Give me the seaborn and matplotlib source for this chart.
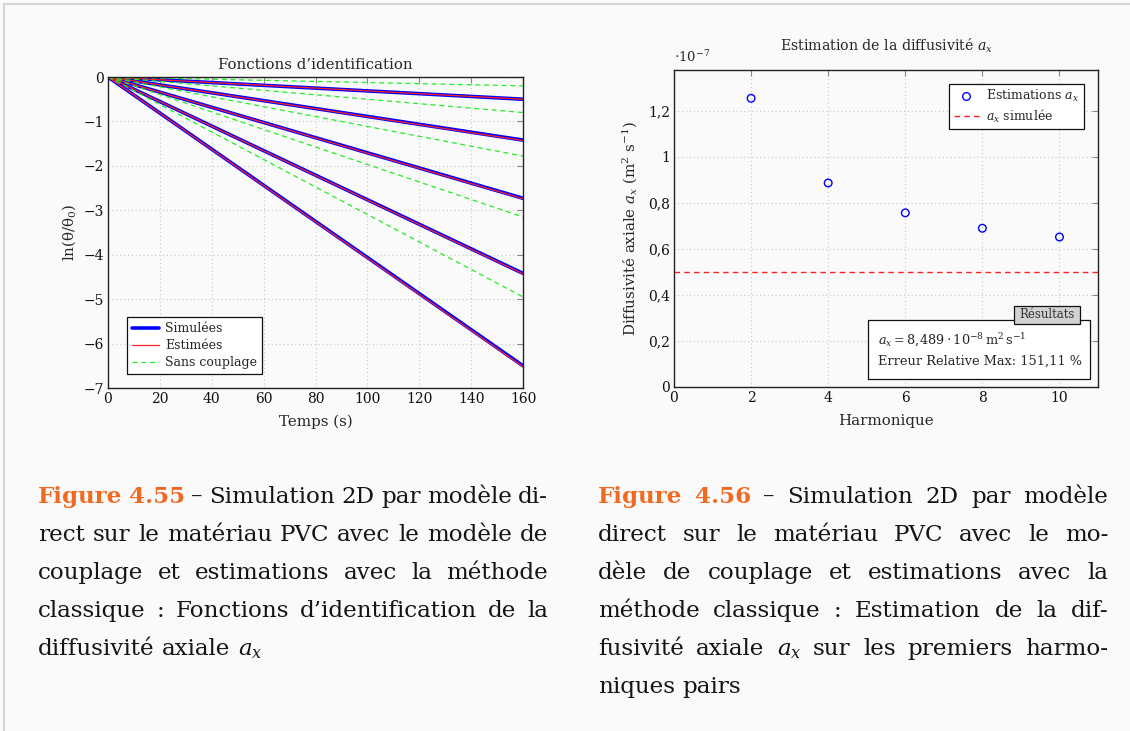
import matplotlib
matplotlib.use("Agg")
import matplotlib.pyplot as plt
import seaborn as sns
from matplotlib.lines import Line2D
from matplotlib.patches import Rectangle

# ---------------- data ----------------
temps = [0, 160]
simulees = [[0, -0.50], [0, -1.42], [0, -2.73], [0, -4.42], [0, -6.50]]
estimees = [[0, -0.50], [0, -1.43], [0, -2.74], [0, -4.43], [0, -6.52]]
sans_couplage = [[0, -0.20], [0, -0.80], [0, -1.78], [0, -3.15], [0, -4.95]]

harmoniques = [2, 4, 6, 8, 10]
estimations = [1.255, 0.887, 0.757, 0.690, 0.652]   # x 1e-7
a_simulee = 0.5                                      # x 1e-7

left_ticks_x = [0, 20, 40, 60, 80, 100, 120, 140, 160]
left_ticks_y = [0, -1, -2, -3, -4, -5, -6, -7]
right_ticks_x = [0, 2, 4, 6, 8, 10]
right_ticks_y = [0, 0.2, 0.4, 0.6, 0.8, 1.0, 1.2]
right_tick_labels_y = ["0", "0,2", "0,4", "0,6", "0,8", "1", "1,2"]

caption_left = [
    "Figure 4.55 – Simulation 2D par modèle di-",
    "rect sur le matériau PVC avec le modèle de",
    "couplage et estimations avec la méthode",
    "classique : Fonctions d’identification de la",
    "diffusivité axiale $a_x$",
]
caption_right = [
    "Figure 4.56 – Simulation 2D par modèle",
    "direct sur le matériau PVC avec le mo-",
    "dèle de couplage et estimations avec la",
    "méthode classique : Estimation de la dif-",
    "fusivité axiale $a_x$ sur les premiers harmo-",
    "niques pairs",
]

# ---------------- style ----------------
sns.set_theme(style="white")
plt.rcParams["font.family"] = ["DejaVu Serif"]
plt.rcParams["mathtext.fontset"] = "dejavuserif"
plt.rcParams["axes.unicode_minus"] = True

W, H = 1130, 731
fig = plt.figure(figsize=(W / 100, H / 100), dpi=100, facecolor="#fafafa")

# page frame (screenshot border)
fig.add_artist(Line2D([4 / W, 4 / W], [0, 1 - 4 / H], transform=fig.transFigure, color="#d4d4d4", lw=1.5))
fig.add_artist(Line2D([4 / W, 1], [1 - 4 / H, 1 - 4 / H], transform=fig.transFigure, color="#d4d4d4", lw=1.5))

TICK_FS = 10
LAB_FS = 10.8


def style_axes(ax):
    ax.set_facecolor("none")
    for s in ax.spines.values():
        s.set_color("#222222")
        s.set_linewidth(1.0)
    ax.tick_params(direction="in", top=True, right=True, length=4, width=0.8,
                   color="#888888", labelsize=TICK_FS, labelcolor="#111111", pad=3)
    ax.grid(True, linestyle=(0, (1, 2.5)), color="#c8c8c8", lw=0.8)


# ---------------- left plot ----------------
ax1 = fig.add_axes([108 / W, 1 - 388 / H, 415 / W, 311 / H])
for k, ys in enumerate(simulees):
    sns.lineplot(x=temps, y=ys, ax=ax1, color="#0000ff", lw=2.6,
                 label="Simulées" if k == 0 else None, legend=False)
for k, ys in enumerate(estimees):
    sns.lineplot(x=temps, y=ys, ax=ax1, color="#ff2020", lw=0.9,
                 label="Estimées" if k == 0 else None, legend=False)
for k, ys in enumerate(sans_couplage):
    sns.lineplot(x=temps, y=ys, ax=ax1, color="#22ee22", lw=0.9, linestyle=(0, (4, 3)),
                 label="Sans couplage" if k == 0 else None, legend=False)
ax1.set_xlim(0, 160)
ax1.set_ylim(-7, 0)
ax1.set_xticks(left_ticks_x)
ax1.set_yticks(left_ticks_y)
style_axes(ax1)
ax1.set_title("Fonctions d’identification", fontsize=LAB_FS, pad=6)
ax1.set_xlabel("Temps (s)", fontsize=LAB_FS, labelpad=6)
ax1.set_ylabel("ln(θ/θ$_0$)", fontsize=LAB_FS, labelpad=4)
h1 = [Line2D([], [], color="#0000ff", lw=2.6),
      Line2D([], [], color="#ff2020", lw=0.9),
      Line2D([], [], color="#22ee22", lw=0.9, linestyle=(0, (4, 3)))]
leg1 = ax1.legend(h1, ["Simulées", "Estimées", "Sans couplage"], loc="lower left",
                  bbox_to_anchor=(0.03, 0.025), fontsize=9, frameon=True, fancybox=False,
                  edgecolor="#111111", facecolor="white", framealpha=1,
                  handlelength=2.2, handletextpad=0.5, borderpad=0.4, labelspacing=0.3)
leg1.get_frame().set_linewidth(0.9)

# ---------------- right plot ----------------
ax2 = fig.add_axes([674 / W, 1 - 387 / H, 424 / W, 317 / H])
sns.scatterplot(x=harmoniques, y=estimations, ax=ax2, marker="o", s=30, legend=False)
coll = ax2.collections[-1]
coll.set_facecolor("none")
coll.set_edgecolor("#0000ff")
coll.set_linewidth(1.0)
ax2.axhline(a_simulee, color="#ff2020", lw=1.0, linestyle=(0, (4, 3)))
ax2.set_xlim(0, 11)
ax2.set_ylim(0, 1.378)
ax2.set_xticks(right_ticks_x)
ax2.set_yticks(right_ticks_y)
ax2.set_yticklabels(right_tick_labels_y)
style_axes(ax2)
ax2.set_title("Estimation de la diffusivité $a_x$", fontsize=LAB_FS - 0.6, pad=14)
ax2.set_xlabel("Harmonique", fontsize=LAB_FS, labelpad=6)
ax2.set_ylabel("Diffusivité axiale $a_x$ (m$^2$ s$^{-1}$)", fontsize=LAB_FS, labelpad=6)
ax2.text(0.0, 1.015, r"$\cdot 10^{-7}$", transform=ax2.transAxes, fontsize=9.5, ha="left", va="bottom")
h2 = [Line2D([], [], color="#0000ff", marker="o", markerfacecolor="none", linestyle="none", markersize=5.5),
      Line2D([], [], color="#ff2020", lw=1.0, linestyle=(0, (4, 3)))]
leg2 = ax2.legend(h2, ["Estimations $a_x$", "$a_x$ simulée"], loc="upper right",
                  bbox_to_anchor=(0.981, 0.976), fontsize=9, frameon=True, fancybox=False,
                  edgecolor="#111111", facecolor="white", framealpha=1,
                  handlelength=2.0, handletextpad=0.6, borderpad=0.35, labelspacing=0.25)
leg2.get_frame().set_linewidth(0.9)

# results box
ax2.add_patch(Rectangle((0.4575, 0.025), 0.5235, 0.186, transform=ax2.transAxes,
                        facecolor="white", edgecolor="#111111", lw=0.9, zorder=5))
ax2.text(0.481, 0.148, r"$a_x = 8{,}489\cdot 10^{-8}\,\mathrm{m^2\,s^{-1}}$", transform=ax2.transAxes,
         fontsize=9.3, ha="left", va="center", zorder=6)
ax2.text(0.481, 0.080, "Erreur Relative Max: 151,11 %", transform=ax2.transAxes,
         fontsize=9.3, ha="left", va="center", zorder=6)
ax2.add_patch(Rectangle((0.802, 0.199), 0.156, 0.057, transform=ax2.transAxes,
                        facecolor="#d2d2d2", edgecolor="#111111", lw=0.9, zorder=7))
ax2.text(0.880, 0.2275, "Résultats", transform=ax2.transAxes, fontsize=8.5,
         ha="center", va="center", color="#333333", zorder=8)

# ---------------- captions (justified) ----------------
renderer = fig.canvas.get_renderer()
CAP_FS = 16.6
ORANGE = "#f26a21"


def text_width(s, **kw):
    t = fig.text(0, 0, s, fontsize=CAP_FS, **kw)
    w = t.get_window_extent(renderer).width
    t.remove()
    return w


space_w = text_width("x x") - text_width("xx")


def draw_paragraph(lines, x0, x1, y0, lead):
    n = len(lines)
    for i, line in enumerate(lines):
        words = line.split(" ")
        objs = []
        for j, w in enumerate(words):
            bold = (i == 0 and j < 2)
            t = fig.text(0, 0, w, fontsize=CAP_FS, fontweight="bold" if bold else "normal",
                         color=ORANGE if bold else "#151515", ha="left", va="baseline")
            objs.append(t)
        widths = [t.get_window_extent(renderer).width for t in objs]
        total = sum(widths)
        if i < n - 1 and len(words) > 1:
            gap = (x1 - x0 - total) / (len(words) - 1)
        else:
            gap = space_w
        x = x0
        y = y0 + i * lead
        for t, w in zip(objs, widths):
            t.set_position((x / W, 1 - y / H))
            x += w + gap


draw_paragraph(caption_left, 38, 548, 503, 38)
draw_paragraph(caption_right, 598, 1108, 503, 38)

fig.savefig("out.png", dpi=100, facecolor=fig.get_facecolor())
